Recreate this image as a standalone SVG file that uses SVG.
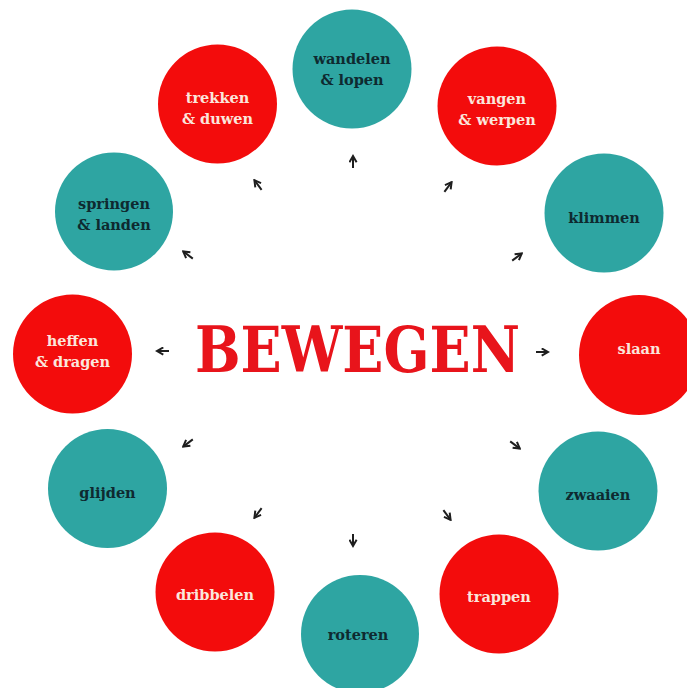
<svg xmlns="http://www.w3.org/2000/svg" width="687" height="688" viewBox="0 0 687 688">
<style>
.teal{fill:#2ea5a2}
.red{fill:#f30c0c}
.tt{font-family:"DejaVu Serif","Liberation Serif",serif;font-weight:bold;font-size:14.5px;fill:#0e2a30;text-anchor:middle}
.rt{font-family:"DejaVu Serif","Liberation Serif",serif;font-weight:bold;font-size:14.5px;fill:#fbe6dc;text-anchor:middle}
.title{font-family:"DejaVu Serif","Liberation Serif",serif;font-weight:bold;font-size:64px;fill:#e8141b}
.arr{fill:none;stroke:#1e1e1e;stroke-width:2;marker-end:url(#ah)}
</style>
<defs>
<marker id="ah" viewBox="0 0 10 10" refX="8" refY="5" markerWidth="9" markerHeight="9" markerUnits="userSpaceOnUse" orient="auto">
<path d="M1,1 L8,5 L1,9" fill="none" stroke="#1e1e1e" stroke-width="2.2"/>
</marker>
</defs>
<rect width="687" height="688" fill="#ffffff"/>
<text class="title" x="195" y="372" textLength="325" lengthAdjust="spacingAndGlyphs">BEWEGEN</text>
<g id="connectors">
<path class="arr" d="M353,168 L353,156"/>
<path class="arr" d="M261.6,189.8 L254.4,180.2"/>
<path class="arr" d="M444.4,191.8 L451.6,182.2"/>
<path class="arr" d="M192.8,258.6 L183.2,251.4"/>
<path class="arr" d="M512.2,260.6 L521.8,253.4"/>
<path class="arr" d="M169,351 L157,351"/>
<path class="arr" d="M536,352 L548,352"/>
<path class="arr" d="M192.8,439.4 L183.2,446.6"/>
<path class="arr" d="M510.2,441.4 L519.8,448.6"/>
<path class="arr" d="M261.6,508.2 L254.4,517.8"/>
<path class="arr" d="M443.4,510.2 L450.6,519.8"/>
<path class="arr" d="M353,534 L353,546"/>
</g>
<g id="wandelen"><circle class="teal" cx="352" cy="69" r="59.5"/><text class="tt" x="352" y="64">wandelen</text><text class="tt" x="352" y="85">&amp; lopen</text></g>
<g id="vangen"><circle class="red" cx="497" cy="106" r="59.5"/><text class="rt" x="497" y="104">vangen</text><text class="rt" x="497" y="125">&amp; werpen</text></g>
<g id="klimmen"><circle class="teal" cx="604" cy="213" r="59.5"/><text class="tt" x="604" y="223">klimmen</text></g>
<g id="slaan"><circle class="red" cx="639" cy="355" r="60"/><text class="rt" x="639" y="354">slaan</text></g>
<g id="zwaaien"><circle class="teal" cx="598" cy="491" r="59.5"/><text class="tt" x="598" y="500">zwaaien</text></g>
<g id="trappen"><circle class="red" cx="499" cy="594" r="59.5"/><text class="rt" x="499" y="602">trappen</text></g>
<g id="roteren"><circle class="teal" cx="360" cy="634" r="59"/><text class="tt" x="358" y="640">roteren</text></g>
<g id="dribbelen"><circle class="red" cx="215" cy="592" r="59.5"/><text class="rt" x="215" y="600">dribbelen</text></g>
<g id="glijden"><circle class="teal" cx="107.5" cy="488.5" r="59.5"/><text class="tt" x="107.5" y="498">glijden</text></g>
<g id="heffen"><circle class="red" cx="72.5" cy="354" r="59.5"/><text class="rt" x="72.5" y="346">heffen</text><text class="rt" x="72.5" y="367">&amp; dragen</text></g>
<g id="springen"><circle class="teal" cx="114" cy="211.5" r="59"/><text class="tt" x="114" y="209">springen</text><text class="tt" x="114" y="230">&amp; landen</text></g>
<g id="trekken"><circle class="red" cx="217.5" cy="104" r="59.5"/><text class="rt" x="217.5" y="103">trekken</text><text class="rt" x="217.5" y="124">&amp; duwen</text></g>
</svg>
